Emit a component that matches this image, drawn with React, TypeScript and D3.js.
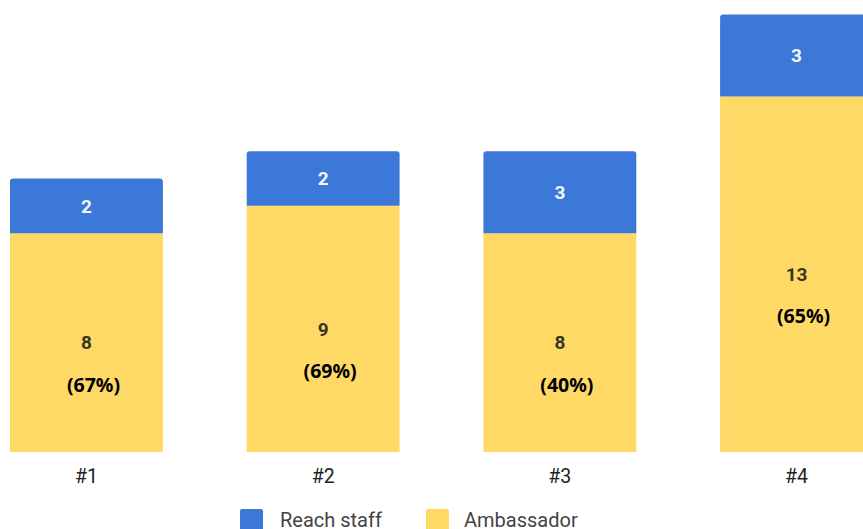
import React from "react";
import * as d3 from "d3";

const categories = ["#1", "#2", "#3", "#4"];
const ambassador = [8, 9, 8, 13];
const reachStaff = [2, 2, 3, 3];
const percentLabels = ["(67%)", "(69%)", "(40%)", "(65%)"];
const seriesNames = ["Reach staff", "Ambassador"];

const W = 863;
const H = 529;
const BLUE = "#3c78d8";
const YELLOW = "#ffd966";

function topRoundedRect(x: number, y: number, w: number, h: number, r: number) {
  return `M${x},${y + h}V${y + r}Q${x},${y} ${x + r},${y}H${x + w - r}Q${x + w},${y} ${x + w},${y + r}V${y + h}Z`;
}

export default function App() {
  const x = d3
    .scaleBand<string>()
    .domain(categories)
    .range([-31.9, 914.9])
    .paddingInner(0.354)
    .paddingOuter(0.177);
  const y = d3.scaleLinear().domain([0, 16]).range([452, 14.4]);

  const data = categories.map((c, i) => ({ c, a: ambassador[i], r: reachStaff[i], p: percentLabels[i] }));
  const stack = d3.stack<any>().keys(["a", "r"])(data as any);

  return (
    <svg width={W} height={H} style={{ position: "absolute", left: 0, top: 0, background: "#fff" }}>
      {data.map((d, i) => {
        const x0 = x(d.c)!;
        const bw = x.bandwidth();
        const cx = x0 + bw / 2;
        const [a0, a1] = stack[0][i];
        const [r0, r1] = stack[1][i];
        const ya0 = y(a0), ya1 = y(a1), yr0 = y(r0), yr1 = y(r1);
        return (
          <g key={d.c}>
            <rect x={x0} y={ya1} width={bw} height={ya0 - ya1} fill={YELLOW} />
            <path d={topRoundedRect(x0, yr1, bw, yr0 - yr1, 3)} fill={BLUE} />
            <text x={cx} y={(yr0 + yr1) / 2} dy="0.36em" textAnchor="middle" fill="#fff"
              style={{ font: "bold 19px Roboto" }} opacity={0.93}>{d.r}</text>
            <text x={cx} y={(ya0 + ya1) / 2} dy="0.36em" textAnchor="middle" fill="#3a3520"
              style={{ font: "bold 19px Roboto" }}>{d.a}</text>
            <text x={cx + 7} y={(ya0 + ya1) / 2 + 42} dy="0.36em" textAnchor="middle" fill="#000"
              style={{ font: "bold 19.5px 'Noto Sans'" }}>{d.p}</text>
            <text x={cx} y={476} dy="0.36em" textAnchor="middle" fill="#222"
              style={{ font: "19.5px Roboto" }}>{d.c}</text>
          </g>
        );
      })}
      <g>
        <rect x={240} y={509} width={23} height={23} rx={2} fill={BLUE} />
        <text x={280} y={526.5} fill="#444" style={{ font: "20px Roboto" }}>{seriesNames[0]}</text>
        <rect x={426} y={509} width={23} height={23} rx={2} fill={YELLOW} />
        <text x={464} y={526.5} fill="#444" style={{ font: "20px Roboto" }}>{seriesNames[1]}</text>
      </g>
    </svg>
  );
}
